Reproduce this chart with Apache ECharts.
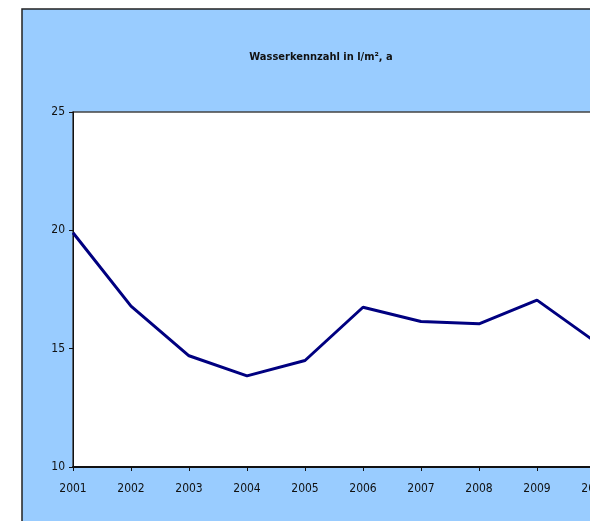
<!DOCTYPE html>
<html>
<head>
<meta charset="utf-8">
<script src="https://cdn.jsdelivr.net/npm/echarts@6/dist/echarts.min.js"></script>
<style>
  html, body { margin: 0; padding: 0; background: #fff; }
  #main { width: 590px; height: 521px; }
</style>
</head>
<body>
<div id="main"></div>
<script>
// Wasserkennzahl je Jahr
const years = ['2001', '2002', '2003', '2004', '2005', '2006', '2007', '2008', '2009', '2010'];
const wasser = [19.9, 16.8, 14.7, 13.85, 14.5, 16.75, 16.15, 16.05, 17.05, 15.3];
const yTicks = [10, 15, 20, 25];

const font = '"Liberation Sans Narrow", "DejaVu Sans Condensed", "Liberation Sans", Arial, sans-serif';

const chart = echarts.init(document.getElementById('main'));

chart.setOption({
  backgroundColor: '#fff',
  animation: false,
  graphic: [{
    type: 'rect',
    z: -10,
    shape: { x: 22, y: 9, width: 600, height: 540 },
    style: { fill: '#99ccff', stroke: '#222', lineWidth: 1.5 }
  }],
  title: {
    text: 'Wasserkennzahl in l/m², a',
    left: 316,
    textAlign: 'center',
    top: 47,
    textStyle: { fontFamily: font, fontSize: 11, fontWeight: 'bold', color: '#111' }
  },
  grid: {
    left: 73,
    top: 112,
    width: 522,
    height: 355,
    outerBoundsMode: 'none',
    containLabel: false,
    show: true,
    backgroundColor: '#fff',
    borderColor: '#444',
    borderWidth: 1.5
  },
  xAxis: {
    type: 'category',
    data: years,
    boundaryGap: false,
    axisLine: { lineStyle: { color: '#111', width: 2 } },
    axisTick: { show: true, length: 4, lineStyle: { color: '#111' } },
    axisLabel: { fontFamily: font, fontSize: 12, color: '#111', margin: 16 },
    splitLine: { show: false }
  },
  yAxis: {
    type: 'value',
    min: yTicks[0],
    max: yTicks[yTicks.length - 1],
    interval: 5,
    axisLine: { show: true, lineStyle: { color: '#111', width: 1 } },
    axisTick: { show: true, length: 4, lineStyle: { color: '#111' } },
    axisLabel: { fontFamily: font, fontSize: 12, color: '#111', margin: 8 },
    splitLine: { show: false }
  },
  series: [{
    type: 'line',
    data: wasser,
    showSymbol: false,
    lineStyle: { color: '#000080', width: 3 },
    itemStyle: { color: '#000080' }
  }]
});
</script>
</body>
</html>
